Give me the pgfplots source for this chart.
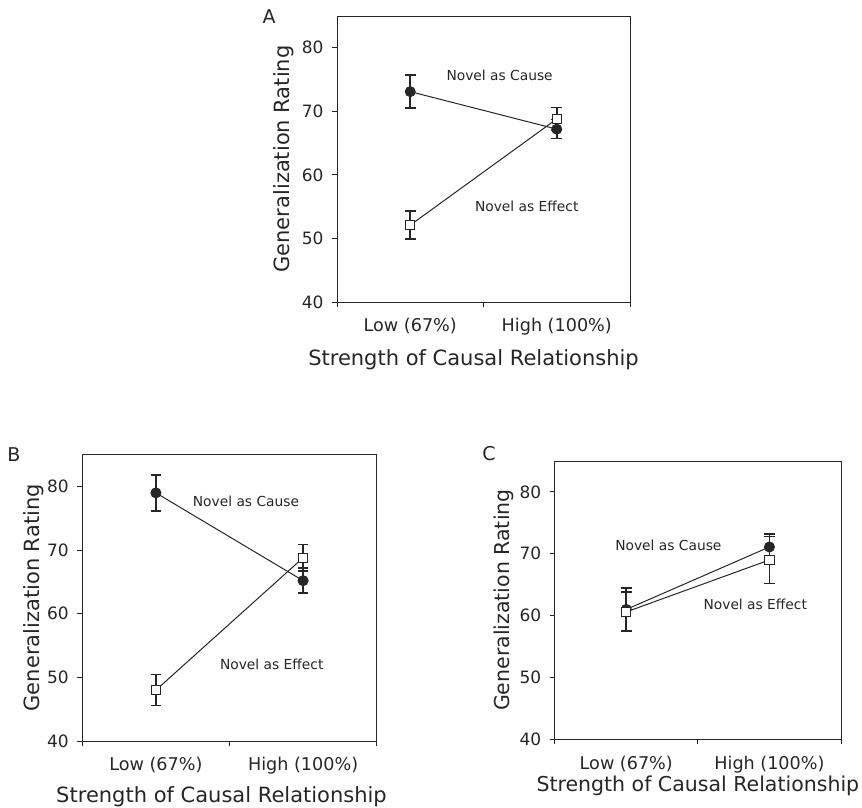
\documentclass[border=0pt]{standalone}
\usepackage{fontspec}
\setmainfont{DejaVu Sans}
\usepackage{pgfplots}
\pgfplotsset{compat=1.18}
\definecolor{ink}{HTML}{262626}
\tikzset{ann/.style={font=\fontsize{13.8}{16}\selectfont, text=ink}}
\pgfplotsset{
  panel/.style={
    scale only axis, anchor=south west,
    xmin=0, xmax=2, ymin=40, ymax=85,
    xtick={0,1,2}, xticklabels={},
    ytick={40,50,...,80},
    extra x ticks={0.5,1.5},
    extra x tick labels={Low (67\%),High (100\%)},
    extra x tick style={major tick length=0pt},
    xtick pos=bottom, ytick pos=left,
    tick align=outside, major tick length=5pt,
    axis line style={line width=1pt, ink},
    every tick/.style={line width=1pt, ink},
    /pgf/number format/assume math mode=true,
    yticklabel style={font=\fontsize{17}{20}\selectfont, text=ink, xshift=-5pt},
    xticklabel style={font=\fontsize{17.6}{20}\selectfont, text=ink, yshift=-13pt},
    ylabel={Generalization Rating},
    xlabel={Strength of Causal Relationship},
    clip=false,
  },
  cause/.style={line width=1pt, ink, mark=*, mark size=5pt,
    mark options={fill=ink, solid},
    error bars/.cd, y dir=both, y explicit,
    error bar style={line width=1.6pt, ink},
    error mark options={rotate=90, mark size=5.3pt, line width=1.6pt, ink}},
  effect/.style={line width=1pt, ink, mark=square*, mark size=4.6pt,
    mark options={fill=white, draw=ink, line width=1pt, solid},
    error bars/.cd, y dir=both, y explicit,
    error bar style={line width=1.6pt, ink},
    error mark options={rotate=90, mark size=5.3pt, line width=1.6pt, ink}},
}
\begin{document}
\begin{tikzpicture}[x=1pt,y=1pt]
\useasboundingbox (0,0) rectangle (862,807);
% Panel A
\begin{axis}[panel, at={(337pt,505pt)}, width=293pt, height=286pt,
  label style={font=\fontsize{21}{24}\selectfont, text=ink},
  ylabel style={at={(axis description cs:0,0.5)}, anchor=center, yshift=53pt},
  xlabel style={at={(axis description cs:0.5,0)}, anchor=center, yshift=-58pt, xshift=-10pt}]
\addplot[cause] coordinates {(0.5,73.1) +- (0,2.6) (1.5,67.2) +- (0,1.5)};
\addplot[effect] coordinates {(0.5,52.1) +- (0,2.2) (1.5,68.8) +- (0,1.8)};
\node[ann] at (axis cs:1.11,75.7) {Novel as Cause};
\node[ann] at (axis cs:1.295,55.1) {Novel as Effect};
\end{axis}
% Panel B
\begin{axis}[panel, at={(82.3pt,66pt)}, width=294.4pt, height=286.3pt,
  label style={font=\fontsize{21}{24}\selectfont, text=ink},
  ylabel style={at={(axis description cs:0,0.5)}, anchor=center, yshift=49pt},
  xlabel style={at={(axis description cs:0.5,0)}, anchor=center, yshift=-56pt, xshift=-8pt}]
\addplot[cause] coordinates {(0.5,79.0) +- (0,2.85) (1.5,65.2) +- (0,1.95)};
\addplot[effect] coordinates {(0.5,48.0) +- (0,2.45) (1.5,68.8) +- (0,2.1)};
\node[ann] at (axis cs:1.112,77.7) {Novel as Cause};
\node[ann] at (axis cs:1.287,52.1) {Novel as Effect};
\end{axis}
% Panel C
\begin{axis}[panel, at={(554.7pt,67.7pt)}, width=286.3pt, height=278.3pt,
  label style={font=\fontsize{20.5}{24}\selectfont, text=ink},
  ylabel style={at={(axis description cs:0,0.5)}, anchor=center, yshift=51pt},
  xlabel style={at={(axis description cs:0.5,0)}, anchor=center, yshift=-47pt}]
\addplot[cause] coordinates {(0.5,61.0) +- (0,3.5) (1.5,71.1) +- (0,2.1)};
\addplot[effect] coordinates {(0.5,60.6) +- (0,3.2) (1.5,69.0) +- (0,3.8)};
\node[ann] at (axis cs:0.794,71.4) {Novel as Cause};
\node[ann] at (axis cs:1.401,61.75) {Novel as Effect};
\end{axis}
\node[font=\fontsize{19}{22}\selectfont, text=ink] at (269,790) {A};
\node[font=\fontsize{19}{22}\selectfont, text=ink] at (14,352) {B};
\node[font=\fontsize{19}{22}\selectfont, text=ink] at (489,353) {C};
\end{tikzpicture}
\end{document}
